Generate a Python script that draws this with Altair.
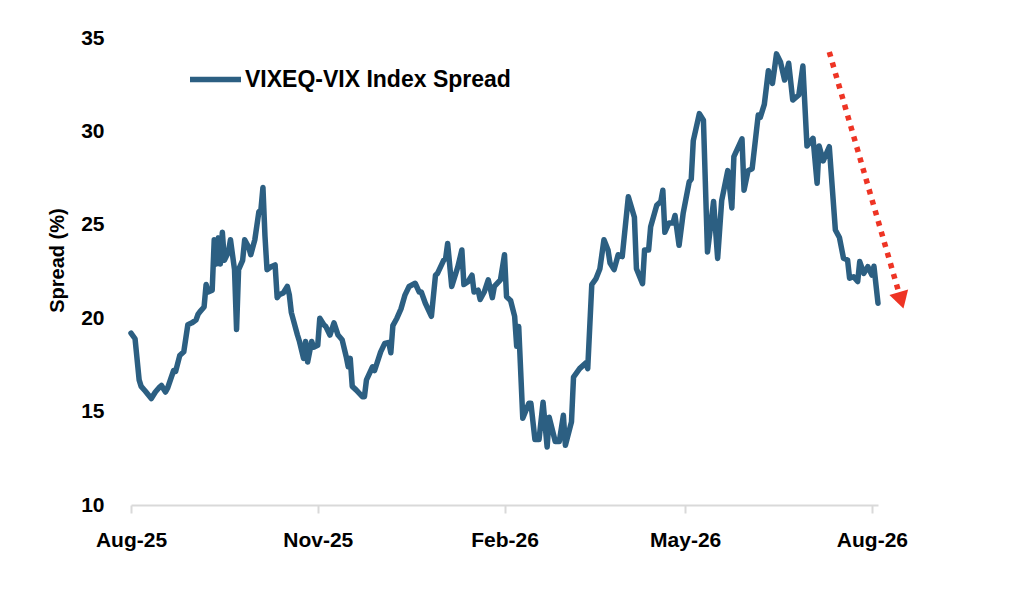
import altair as alt
import pandas as pd

series_name = "VIXEQ-VIX Index Spread"

dates = [
    "2025-08-01", "2025-08-03", "2025-08-05", "2025-08-06", "2025-08-08", "2025-08-11", "2025-08-13",
    "2025-08-15", "2025-08-16", "2025-08-18", "2025-08-19", "2025-08-22", "2025-08-23", "2025-08-25",
    "2025-08-27", "2025-08-29", "2025-08-31", "2025-09-02", "2025-09-03", "2025-09-04", "2025-09-06",
    "2025-09-07", "2025-09-08", "2025-09-10", "2025-09-11", "2025-09-12", "2025-09-13", "2025-09-14",
    "2025-09-15", "2025-09-16", "2025-09-18", "2025-09-19", "2025-09-21", "2025-09-22", "2025-09-23",
    "2025-09-25", "2025-09-26", "2025-09-28", "2025-09-29", "2025-10-01", "2025-10-03", "2025-10-04",
    "2025-10-05", "2025-10-06", "2025-10-07", "2025-10-09", "2025-10-11", "2025-10-12", "2025-10-13",
    "2025-10-15", "2025-10-17", "2025-10-18", "2025-10-19", "2025-10-22", "2025-10-23", "2025-10-25",
    "2025-10-26", "2025-10-27", "2025-10-29", "2025-10-30", "2025-11-01", "2025-11-02", "2025-11-04",
    "2025-11-05", "2025-11-07", "2025-11-09", "2025-11-11", "2025-11-13", "2025-11-15", "2025-11-16",
    "2025-11-17", "2025-11-18", "2025-11-20", "2025-11-23", "2025-11-24", "2025-11-25", "2025-11-28",
    "2025-11-29", "2025-12-02", "2025-12-04", "2025-12-06", "2025-12-07", "2025-12-08", "2025-12-10",
    "2025-12-12", "2025-12-14", "2025-12-16", "2025-12-19", "2025-12-21", "2025-12-22", "2025-12-24",
    "2025-12-27", "2025-12-29", "2025-12-30", "2026-01-02", "2026-01-03", "2026-01-04", "2026-01-06",
    "2026-01-09", "2026-01-11", "2026-01-12", "2026-01-14", "2026-01-16", "2026-01-17", "2026-01-19",
    "2026-01-20", "2026-01-22", "2026-01-24", "2026-01-26", "2026-01-27", "2026-01-30", "2026-02-01",
    "2026-02-02", "2026-02-04", "2026-02-06", "2026-02-07", "2026-02-08", "2026-02-10", "2026-02-13",
    "2026-02-14", "2026-02-16", "2026-02-18", "2026-02-20", "2026-02-22", "2026-02-23", "2026-02-26",
    "2026-02-28", "2026-03-02", "2026-03-03", "2026-03-06", "2026-03-07", "2026-03-10", "2026-03-13",
    "2026-03-14", "2026-03-16", "2026-03-18", "2026-03-20", "2026-03-22", "2026-03-24", "2026-03-25",
    "2026-03-27", "2026-03-29", "2026-03-31", "2026-04-03", "2026-04-06", "2026-04-07", "2026-04-10",
    "2026-04-11", "2026-04-13", "2026-04-14", "2026-04-17", "2026-04-19", "2026-04-20", "2026-04-21",
    "2026-04-23", "2026-04-25", "2026-04-26", "2026-04-28", "2026-04-30", "2026-05-03", "2026-05-04",
    "2026-05-05", "2026-05-08", "2026-05-10", "2026-05-12", "2026-05-15", "2026-05-17", "2026-05-19",
    "2026-05-22", "2026-05-24", "2026-05-25", "2026-05-29", "2026-05-30", "2026-06-01", "2026-06-03",
    "2026-06-06", "2026-06-07", "2026-06-09", "2026-06-11", "2026-06-13", "2026-06-14", "2026-06-15",
    "2026-06-17", "2026-06-19", "2026-06-21", "2026-06-23", "2026-06-26", "2026-06-28", "2026-06-30",
    "2026-07-03", "2026-07-05", "2026-07-06", "2026-07-08", "2026-07-11", "2026-07-14", "2026-07-16",
    "2026-07-18", "2026-07-20", "2026-07-21", "2026-07-23", "2026-07-25", "2026-07-26", "2026-07-28",
    "2026-07-30", "2026-08-01", "2026-08-02", "2026-08-04",
]

spread = [
    19.2, 18.9, 16.7, 16.35, 16.1, 15.7, 16.05,
    16.3, 16.4, 16.05, 16.25, 17.2, 17.15, 18.0,
    18.2, 19.65, 19.75, 19.9, 20.2, 20.35, 20.6,
    21.8, 21.4, 21.5, 24.2, 22.9, 24.3, 22.9,
    24.6, 23.1, 23.55, 24.2, 22.6, 19.4, 22.6,
    23.1, 24.2, 23.8, 23.4, 24.2, 25.7, 25.8,
    27.0, 24.4, 22.6, 22.75, 22.85, 21.1, 21.25,
    21.35, 21.7, 21.25, 20.3, 19.1, 18.75, 17.85,
    18.75, 17.65, 18.75, 18.45, 18.55, 20.0, 19.65,
    19.55, 19.1, 19.75, 19.1, 18.85, 17.95, 17.4,
    17.85, 16.35, 16.15, 15.8, 15.8, 16.7, 17.4,
    17.2, 18.2, 18.65, 18.7, 18.15, 19.6, 20.0,
    20.5, 21.25, 21.7, 21.87, 21.4, 21.4, 20.8,
    20.1, 22.3, 22.4, 23.1, 23.2, 24.0, 21.7,
    22.75, 23.65, 21.8, 21.95, 22.3, 21.4, 21.5,
    21.0, 21.4, 22.05, 21.1, 21.7, 22.05, 23.4,
    21.15, 20.95, 20.1, 18.5, 19.55, 14.65, 15.45,
    15.45, 13.5, 13.5, 15.5, 13.1, 14.7, 13.4,
    13.4, 14.8, 13.2, 14.45, 16.85, 17.3, 17.6,
    17.3, 21.8, 22.1, 22.65, 24.2, 23.65, 22.95,
    22.6, 23.4, 23.3, 26.5, 25.4, 22.65, 21.85,
    23.65, 23.65, 24.9, 26.05, 26.25, 26.85, 24.6,
    25.1, 25.1, 25.5, 23.9, 25.6, 27.3, 27.45,
    29.5, 30.95, 30.6, 23.55, 26.25, 23.2, 26.3,
    27.9, 25.9, 28.65, 29.6, 26.85, 27.9, 28.0,
    30.88, 30.75, 31.45, 33.25, 32.57, 33.35, 34.15,
    33.7, 32.75, 33.65, 31.68, 31.95, 33.5, 29.22,
    29.63, 27.22, 29.22, 28.42, 29.18, 24.72, 24.32,
    23.21, 23.12, 22.14, 22.22, 21.96, 23.03, 22.4,
    22.76, 22.31, 22.78, 20.8,
]

# annotation arrow (start, head) in data units
arrow_dates = ["2026-07-11", "2026-08-15"]
arrow_values = [34.25, 21.1]

y_ticks = [10, 15, 20, 25, 30, 35]
x_tick_dates = [(2025, 8), (2025, 11), (2026, 2), (2026, 5), (2026, 8)]

line_color = "#2C5F82"
arrow_color = "#EE3424"
font = "Liberation Sans"

df = pd.DataFrame({"date": dates, "spread": spread, "series": series_name})
arrow_df = pd.DataFrame({"date": arrow_dates, "value": arrow_values})
head_df = arrow_df.iloc[[1]]

x_scale = alt.Scale(domain=[alt.DateTime(year=2025, month=8, date=1),
                            alt.DateTime(year=2026, month=8, date=4)])
y_scale = alt.Scale(domain=[10, 35], nice=False, zero=False)

x_axis = alt.Axis(
    values=[alt.DateTime(year=y, month=m, date=1) for y, m in x_tick_dates],
    format="%b-%y", title=None, grid=False,
    domainColor="#D9D9D9", domainWidth=2,
    tickColor="#D9D9D9", tickWidth=2, tickSize=8,
    labelPadding=16, labelFontSize=21, labelFontWeight="bold", labelColor="#000000",
    labelOverlap=False, labelFlush=False,
)
y_axis = alt.Axis(
    values=y_ticks, title="Spread (%)", grid=False, domain=False, ticks=False, tickSize=0,
    labelPadding=27, labelFontSize=21, labelFontWeight="bold", labelColor="#000000",
    titleFontSize=20, titleFontWeight="bold", titleColor="#000000",
    titleAngle=270, titleX=-64, titleY=222, titleAlign="center", titleBaseline="bottom",
)

line = alt.Chart(df).mark_line(strokeWidth=5.5, strokeJoin="round", strokeCap="round").encode(
    x=alt.X("date:T", scale=x_scale, axis=x_axis),
    y=alt.Y("spread:Q", scale=y_scale, axis=y_axis),
    color=alt.Color("series:N", scale=alt.Scale(range=[line_color]),
                    legend=alt.Legend(title=None, orient="none", legendX=56, legendY=13,
                                      symbolType="stroke", symbolSize=2601,
                                      symbolStrokeWidth=5.5, labelFontSize=23,
                                      labelFontWeight="bold", labelColor="#000000",
                                      labelOffset=1, labelLimit=0, padding=0)),
)

arrow = alt.Chart(arrow_df).mark_line(
    color=arrow_color, strokeWidth=5.5, strokeDash=[5, 6], strokeCap="butt"
).encode(x="date:T", y="value:Q")

head = alt.Chart(head_df).mark_point(
    shape="triangle", filled=True, size=380, angle=164, color=arrow_color, opacity=1
).encode(x="date:T", y="value:Q")

chart = alt.layer(line, arrow, head).properties(
    width=747, height=467,
    autosize=alt.AutoSizeParams(type="none"),
    padding={"left": 123, "top": 30, "right": 100, "bottom": 80},
    background="#FFFFFF",
).configure(font=font).configure_view(strokeWidth=0, strokeOpacity=0)

chart.save("out.html", embed_options={"renderer": "svg", "actions": False})
